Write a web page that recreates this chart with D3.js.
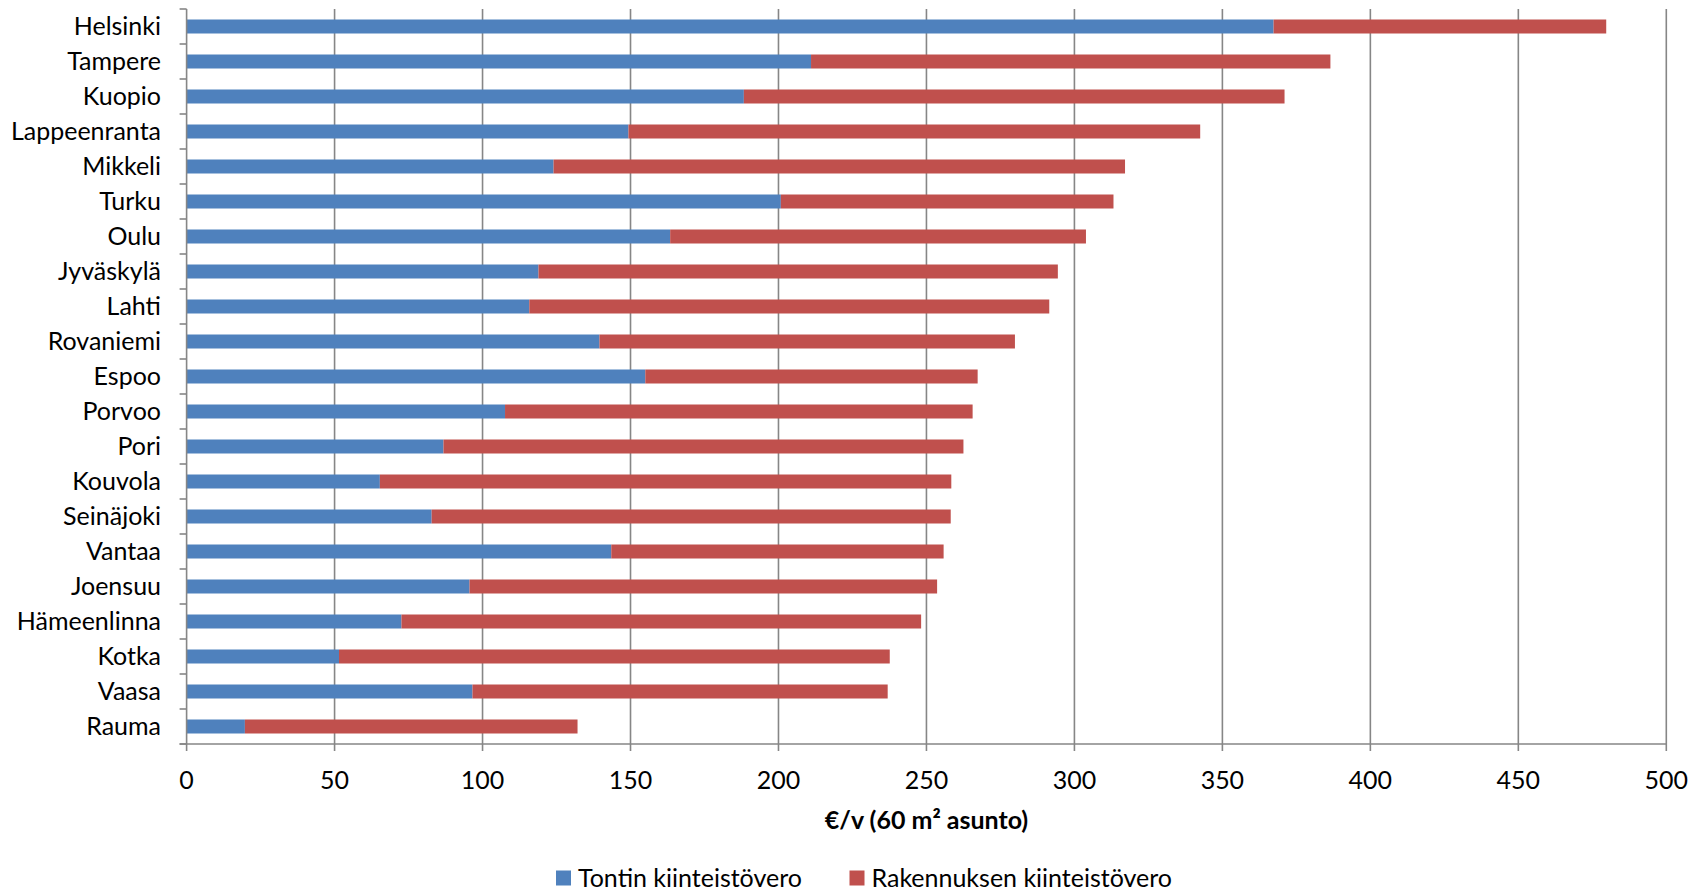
<!DOCTYPE html>
<html>
<head>
<meta charset="utf-8">
<script src="https://cdn.jsdelivr.net/npm/d3@7"></script>
<style>
  html, body { margin: 0; padding: 0; background: #ffffff; }
  svg { display: block; }
  text { font-family: Lato, "Open Sans", sans-serif; fill: #000; }
</style>
</head>
<body>
<svg id="chart" width="1701" height="892"></svg>
<script>
// ---- data ----
const cities = ["Helsinki","Tampere","Kuopio","Lappeenranta","Mikkeli","Turku","Oulu","Jyväskylä","Lahti","Rovaniemi","Espoo","Porvoo","Pori","Kouvola","Seinäjoki","Vantaa","Joensuu","Hämeenlinna","Kotka","Vaasa","Rauma"];
const tontinVero = [367.3,211.0,188.3,149.3,124.0,200.8,163.4,118.9,115.8,139.5,155.0,107.6,86.8,65.3,82.8,143.5,95.6,72.6,51.5,96.6,19.7];
const rakennuksenVero = [112.4,175.5,182.7,193.2,193.1,112.4,140.5,175.5,175.7,140.4,112.3,158.0,175.7,193.1,175.4,112.3,158.0,175.6,186.1,140.3,112.4];
const seriesNames = ["Tontin kiinteistövero","Rakennuksen kiinteistövero"];
const xTicks = [0,50,100,150,200,250,300,350,400,450,500];
const xTitle = "€/v (60 m² asunto)";

(function () {
// ---- layout ----
const colors = ["#4F81BD","#C0504D"];
const gridColor = "#868686";
const pLeft = 186.6, pRight = 1666.3, pTop = 9, pBottom = 744;

const svg = d3.select("#chart");

// font size calibration so label widths match the reference (Calibri 20pt look-alike)
const probe = svg.append("text").attr("font-size", 26.67).text("Lappeenranta");
const w = probe.node().getComputedTextLength();
probe.remove();
const fs = w > 0 ? 26.67 * 150 / w : 25;

const x = d3.scaleLinear().domain([0, 500]).range([pLeft, pRight]);
const y = d3.scaleBand().domain(cities).range([pTop, pBottom]).paddingInner(0.6).paddingOuter(0.3);
const yb = d3.scaleBand().domain(cities).range([pTop, pBottom]);

// gridlines
svg.append("g").selectAll("line").data(xTicks.filter(d => d > 0)).join("line")
  .attr("x1", d => x(d)).attr("x2", d => x(d))
  .attr("y1", pTop).attr("y2", pBottom)
  .attr("stroke", gridColor).attr("stroke-width", 1.6);

// stacked data
const rows = cities.map((c, i) => ({city: c, a: tontinVero[i], b: rakennuksenVero[i]}));
const stack = d3.stack().keys(["a","b"])(rows);

svg.append("g").selectAll("g").data(stack).join("g")
  .attr("fill", (d, i) => colors[i])
  .selectAll("rect").data(d => d).join("rect")
  .attr("x", d => x(d[0]))
  .attr("width", d => x(d[1]) - x(d[0]))
  .attr("y", d => y(d.data.city))
  .attr("height", y.bandwidth());

// y axis (ticks at band boundaries)
const yBounds = cities.map(c => yb(c)).concat([pBottom]);
const ya = svg.append("g");
ya.append("line").attr("x1", pLeft).attr("x2", pLeft).attr("y1", pTop).attr("y2", pBottom)
  .attr("stroke", gridColor).attr("stroke-width", 1.6);
ya.selectAll("line.tk").data(yBounds).join("line").attr("class","tk")
  .attr("x1", pLeft - 7).attr("x2", pLeft).attr("y1", d => d).attr("y2", d => d)
  .attr("stroke", gridColor).attr("stroke-width", 1.6);
ya.selectAll("text").data(cities).join("text")
  .attr("x", 161).attr("y", d => yb(d) + yb.bandwidth() / 2 - 2)
  .attr("text-anchor", "end").attr("dominant-baseline", "central")
  .attr("font-size", fs).text(d => d);

// x axis
const xa = svg.append("g");
xa.append("line").attr("x1", pLeft - 7).attr("x2", pRight).attr("y1", pBottom).attr("y2", pBottom)
  .attr("stroke", gridColor).attr("stroke-width", 1.6);
xa.selectAll("line.tk").data(xTicks).join("line").attr("class","tk")
  .attr("x1", d => x(d)).attr("x2", d => x(d)).attr("y1", pBottom).attr("y2", pBottom + 7)
  .attr("stroke", gridColor).attr("stroke-width", 1.6);
xa.selectAll("text").data(xTicks).join("text")
  .attr("x", d => x(d)).attr("y", 779)
  .attr("text-anchor", "middle").attr("dominant-baseline", "central")
  .attr("font-size", fs).text(d => d);

// axis title
svg.append("text").attr("x", (pLeft + pRight) / 2).attr("y", 819)
  .attr("text-anchor", "middle").attr("dominant-baseline", "central")
  .attr("font-size", fs).attr("font-weight", "bold")
  .text(xTitle);

// legend
const legendX = [556, 849.5];
const lg = svg.append("g").selectAll("g").data(seriesNames).join("g")
  .attr("transform", (d, i) => `translate(${legendX[i]},877)`);
lg.append("rect").attr("x", 0).attr("y", -6.5).attr("width", 15).attr("height", 15)
  .attr("fill", (d, i) => colors[i]);
lg.append("text").attr("x", 22).attr("y", 0).attr("dominant-baseline", "central")
  .attr("font-size", fs).text(d => d);
})();
</script>
</body>
</html>
